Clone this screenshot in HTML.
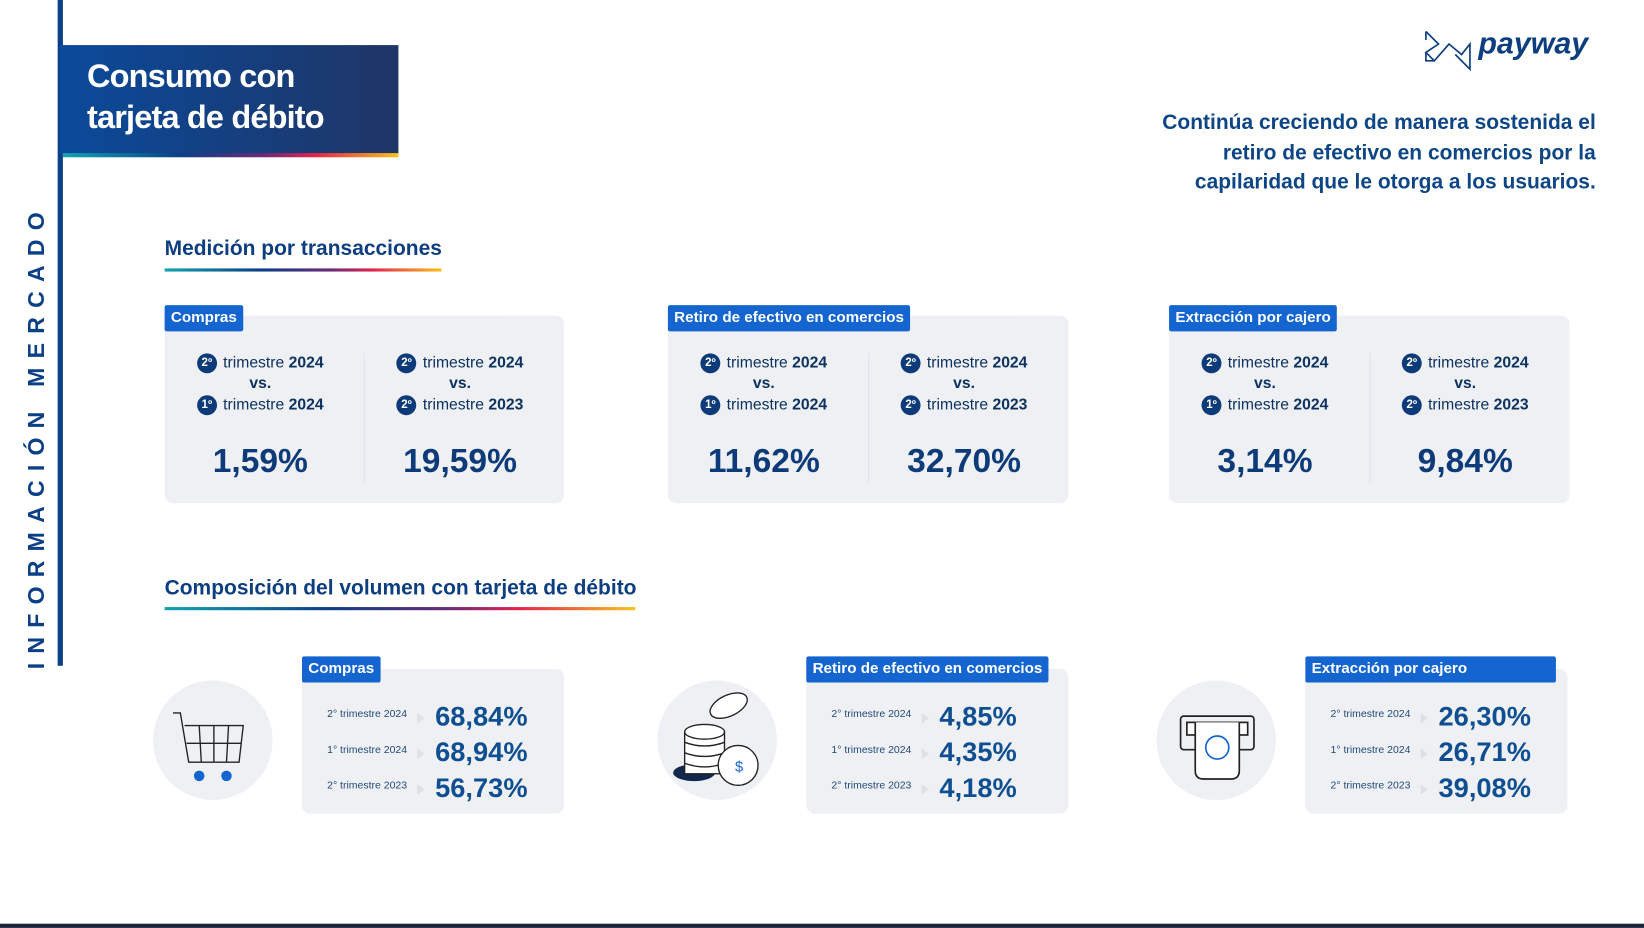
<!DOCTYPE html>
<html><head><meta charset="utf-8"><style>
*{margin:0;padding:0;box-sizing:border-box}
html,body{width:1644px;height:928px;overflow:hidden;background:#fff}
#w{position:absolute;left:0;top:0;width:1568px;height:885px;transform:scale(1.04847);transform-origin:0 0;font-family:"Liberation Sans",sans-serif;color:#0d3f80}
.a{position:absolute}
.grad{background:linear-gradient(90deg,#12a3b0,#0b3f86 35%,#6a2a7a 60%,#e2234f 75%,#f7c21b)}
.card{position:absolute;background:#eef0f4;border-radius:8px}
.tab{position:absolute;background:#1565d0;color:#fff;font-weight:bold;font-size:14.5px;padding:0 6px;height:25px;line-height:25px;border-radius:2px}
.col{position:absolute;top:0;width:50%;height:100%;text-align:center}
.ln{position:absolute;left:-8px;right:0;font-size:15px;color:#0d3260}
.ln b{color:#0d3260}
.num{display:inline-block;width:19px;height:19px;border-radius:50%;background:#0d3a78;color:#fff;font-size:11px;font-weight:bold;line-height:19px;text-align:center;margin-right:6px;vertical-align:middle}
.big{position:absolute;left:-8px;right:0;top:120px;font-size:32px;font-weight:bold;color:#0d3a78}
.r{position:absolute;left:24px;font-size:10px;color:#234a7a}
.tri{position:absolute;left:110px;width:0;height:0;border-left:7px solid #dde0e6;border-top:5px solid transparent;border-bottom:5px solid transparent}
.v{position:absolute;left:127px;font-size:26px;font-weight:bold;color:#0f4f91}
.circ{position:absolute;width:114px;height:114px;border-radius:50%;background:#eef0f4}
</style></head><body><div id="w">
<div class="a" style="left:55px;top:0;width:5px;height:635px;background:#0b3f86"></div>
<div class="a" style="left:35px;top:416px;transform:translate(-50%,-50%) rotate(-90deg);white-space:nowrap;font-size:22px;font-weight:bold;letter-spacing:8.8px;color:#0b3f86">INFORMACIÓN MERCADO</div>
<div class="a" style="left:57px;top:43px;width:323px;height:104px;background:linear-gradient(90deg,#0a4a9a,#1f3566)"></div>
<div class="a grad" style="left:60px;top:146px;width:320px;height:4px"></div>
<div class="a" style="left:83px;top:53px;color:#fff;font-size:31px;font-weight:bold;line-height:39px;letter-spacing:-0.8px">Consumo con<br>tarjeta de débito</div>
<svg class="a" style="left:1358px;top:28px" width="46" height="40" viewBox="0 0 46 40" fill="none" stroke="#0d3f80" stroke-width="1.6"><path d="M2 2 L14 14 L2 22 L10 30 L24 14 L36 24 L44 14 L44 38 L30 24 M2 2 L2 10 M2 22 L2 30 L10 30"/></svg>
<div class="a" style="left:1410px;top:26px;font-size:29px;font-weight:bold;font-style:italic;color:#0d3f80">payway</div>
<div class="a" style="right:46px;top:103px;text-align:right;font-size:20px;font-weight:bold;line-height:28.5px;color:#0d4585">Continúa creciendo de manera sostenida el<br>retiro de efectivo en comercios por la<br>capilaridad que le otorga a los usuarios.</div>
<div class="a" style="left:157px;top:226px;font-size:20px;font-weight:bold;color:#0d3f80">Medición por transacciones</div>
<div class="a grad" style="left:157px;top:256px;width:264px;height:3px"></div>
<div class="a" style="left:157px;top:550px;font-size:20px;font-weight:bold;color:#0d3f80">Composición del volumen con tarjeta de débito</div>
<div class="a grad" style="left:157px;top:579px;width:449px;height:3px"></div>

<!-- row1 -->
<div class="card" style="left:157px;top:301px;width:381px;height:179px">
 <div class="a" style="left:190px;top:36px;width:1px;height:124px;background:#dfe2e8"></div>
 <div class="col" style="left:0"><div class="ln" style="top:36px"><span class="num">2º</span>trimestre <b>2024</b></div><div class="ln" style="top:56px;font-weight:bold">vs.</div><div class="ln" style="top:76px"><span class="num">1º</span>trimestre <b>2024</b></div><div class="big">1,59%</div></div>
 <div class="col" style="left:50%"><div class="ln" style="top:36px"><span class="num">2º</span>trimestre <b>2024</b></div><div class="ln" style="top:56px;font-weight:bold">vs.</div><div class="ln" style="top:76px"><span class="num">2º</span>trimestre <b>2023</b></div><div class="big">19,59%</div></div>
</div>
<div class="tab" style="left:157px;top:291px">Compras</div>
<div class="card" style="left:637px;top:301px;width:382px;height:179px">
 <div class="a" style="left:191px;top:36px;width:1px;height:124px;background:#dfe2e8"></div>
 <div class="col" style="left:0"><div class="ln" style="top:36px"><span class="num">2º</span>trimestre <b>2024</b></div><div class="ln" style="top:56px;font-weight:bold">vs.</div><div class="ln" style="top:76px"><span class="num">1º</span>trimestre <b>2024</b></div><div class="big">11,62%</div></div>
 <div class="col" style="left:50%"><div class="ln" style="top:36px"><span class="num">2º</span>trimestre <b>2024</b></div><div class="ln" style="top:56px;font-weight:bold">vs.</div><div class="ln" style="top:76px"><span class="num">2º</span>trimestre <b>2023</b></div><div class="big">32,70%</div></div>
</div>
<div class="tab" style="left:637px;top:291px">Retiro de efectivo en comercios</div>
<div class="card" style="left:1115px;top:301px;width:382px;height:179px">
 <div class="a" style="left:191px;top:36px;width:1px;height:124px;background:#dfe2e8"></div>
 <div class="col" style="left:0"><div class="ln" style="top:36px"><span class="num">2º</span>trimestre <b>2024</b></div><div class="ln" style="top:56px;font-weight:bold">vs.</div><div class="ln" style="top:76px"><span class="num">1º</span>trimestre <b>2024</b></div><div class="big">3,14%</div></div>
 <div class="col" style="left:50%"><div class="ln" style="top:36px"><span class="num">2º</span>trimestre <b>2024</b></div><div class="ln" style="top:56px;font-weight:bold">vs.</div><div class="ln" style="top:76px"><span class="num">2º</span>trimestre <b>2023</b></div><div class="big">9,84%</div></div>
</div>
<div class="tab" style="left:1115px;top:291px">Extracción por cajero</div>

<!-- row2 -->
<div class="circ" style="left:146px;top:649px"></div>
<svg class="a" style="left:160px;top:675px" width="80" height="75" viewBox="0 0 80 75" fill="none" stroke="#222" stroke-width="1.3"><path d="M5 5 L12 5 L20 52 L68 52 L72 17 L16 17"/><path d="M30 17 L32 52 M44 17 L44 52 M58 17 L56 52 M18 34 L70 34" /><circle cx="30" cy="65" r="5" fill="#1565d0" stroke="none"/><circle cx="56" cy="65" r="5" fill="#1565d0" stroke="none"/></svg>
<div class="card" style="left:288px;top:638px;width:250px;height:138px">
 <div class="r" style="top:38px">2° trimestre 2024</div><div class="tri" style="top:42px"></div><div class="v" style="top:30px">68,84%</div>
 <div class="r" style="top:72px">1° trimestre 2024</div><div class="tri" style="top:76px"></div><div class="v" style="top:64px">68,94%</div>
 <div class="r" style="top:106px">2° trimestre 2023</div><div class="tri" style="top:110px"></div><div class="v" style="top:98px">56,73%</div>
</div>
<div class="tab" style="left:288px;top:626px">Compras</div>

<div class="circ" style="left:627px;top:649px"></div>
<svg class="a" style="left:640px;top:655px" width="100" height="100" viewBox="0 0 100 100" stroke="#222" stroke-width="1.3"><ellipse cx="55" cy="18" rx="19" ry="10" transform="rotate(-25 55 18)" fill="#fff"/><ellipse cx="22" cy="82" rx="20" ry="8" fill="#12294d" stroke="none"/><rect x="13" y="43" width="38" height="40" fill="#fff"/><ellipse cx="32" cy="43" rx="19" ry="7" fill="#fff"/><path d="M13 53 Q32 60 51 53 M13 63 Q32 70 51 63 M13 73 Q32 80 51 73" fill="none"/><circle cx="64" cy="75" r="19" fill="#fff"/><text x="61" y="81" font-size="14" fill="#1565d0" stroke="none" font-family="Liberation Sans">$</text></svg>
<div class="card" style="left:769px;top:638px;width:250px;height:138px">
 <div class="r" style="top:38px">2° trimestre 2024</div><div class="tri" style="top:42px"></div><div class="v" style="top:30px">4,85%</div>
 <div class="r" style="top:72px">1° trimestre 2024</div><div class="tri" style="top:76px"></div><div class="v" style="top:64px">4,35%</div>
 <div class="r" style="top:106px">2° trimestre 2023</div><div class="tri" style="top:110px"></div><div class="v" style="top:98px">4,18%</div>
</div>
<div class="tab" style="left:769px;top:626px">Retiro de efectivo en comercios</div>

<div class="circ" style="left:1103px;top:649px"></div>
<svg class="a" style="left:1120px;top:675px" width="80" height="75" viewBox="0 0 80 75" fill="none" stroke="#222" stroke-width="1.6"><rect x="6" y="8" width="70" height="32" rx="3"/><rect x="12" y="14" width="58" height="12" fill="#fff"/><path d="M20 14 L20 60 Q20 68 28 68 L54 68 Q62 68 62 60 L62 14" fill="#fff"/><circle cx="41" cy="38" r="11" stroke="#1565d0"/></svg>
<div class="card" style="left:1245px;top:638px;width:250px;height:138px">
 <div class="r" style="top:38px">2° trimestre 2024</div><div class="tri" style="top:42px"></div><div class="v" style="top:30px">26,30%</div>
 <div class="r" style="top:72px">1° trimestre 2024</div><div class="tri" style="top:76px"></div><div class="v" style="top:64px">26,71%</div>
 <div class="r" style="top:106px">2° trimestre 2023</div><div class="tri" style="top:110px"></div><div class="v" style="top:98px">39,08%</div>
</div>
<div class="tab" style="left:1245px;top:626px;width:239px">Extracción por cajero</div>

<div class="a" style="left:0;top:881px;width:1568px;height:4px;background:#1b2535"></div>
</div></body></html>
